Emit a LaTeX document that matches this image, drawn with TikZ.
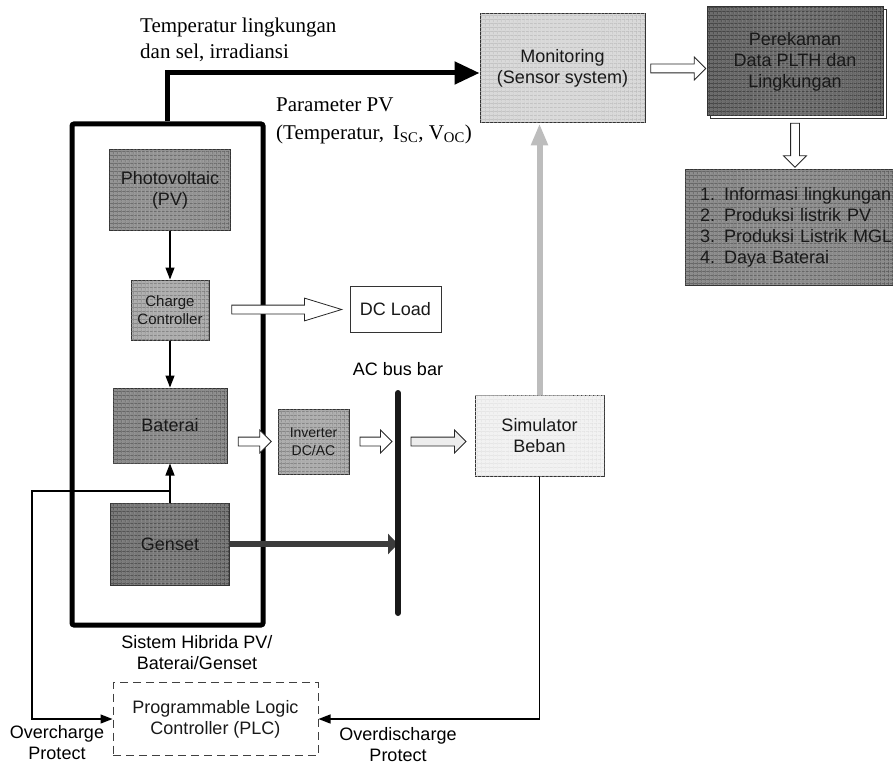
\documentclass[tikz,border=0pt]{standalone}
\usepackage{fontspec}
\setmainfont{Liberation Serif}
\setsansfont{Liberation Sans}
\usetikzlibrary{arrows.meta, positioning, calc, shapes.arrows, patterns.meta, shadows}
\definecolor{arrowgray}{HTML}{BDBDBD}
\definecolor{gensetarrow}{HTML}{3C3C3C}

\begin{document}
\begin{tikzpicture}[x=1pt, y=-1pt,
  box/.style={draw=black!80, line width=1pt, inner sep=0pt, align=center, text=black!90, font=\sffamily\fontsize{18}{21}\selectfont},
  mesh/.style 2 args={fill=#1,
    postaction={pattern={Lines[distance=4pt,line width=0.6pt]}, pattern color=#2},
    postaction={pattern={Lines[distance=4pt,angle=90,line width=0.6pt]}, pattern color=#2}},
  flow/.style={line width=1.3pt, -{Triangle[length=12pt,width=9pt]}},
  blk/.style={single arrow, draw=black!85, fill=white, line width=0.8pt, inner xsep=0pt, inner ysep=4pt, single arrow head extend=7pt},
  lbl/.style={font=\sffamily\fontsize{18}{21}\selectfont, align=center, inner sep=0pt},
  serif/.style={font=\fontsize{21}{26}\selectfont, align=left, inner sep=0pt}]
\useasboundingbox (0,0) rectangle (893,767);

\node[draw, line width=5pt, rounded corners=2pt, minimum width=191pt, minimum height=501pt] (hyb) at (167.5,374.5) {};

\node[box, mesh={black!42}{black!65}, minimum width=121pt, minimum height=81pt] (pv) at (170,190.5) {Photovoltaic\\(PV)};
\node[box, mesh={black!32}{black!55}, minimum width=78pt, minimum height=60pt, font=\sffamily\fontsize{15}{17.7}\selectfont] (cc) at (170,310) {Charge\\Controller};
\node[box, mesh={black!45}{black!68}, minimum width=114pt, minimum height=75pt] (bat) at (170,425.5) {Baterai};
\node[box, mesh={black!52}{black!75}, minimum width=119pt, minimum height=82pt] (gen) at (170,544) {Genset};
\node[box, mesh={black!32}{black!55}, minimum width=71pt, minimum height=65pt, font=\sffamily\fontsize{14}{17.7}\selectfont] (inv) at (313.5,441.5) {Inverter\\DC/AC};
\node[box, fill=white, minimum width=91pt, minimum height=46pt] (dcl) at (395.5,309) {DC Load};
\node[box, mesh={black!5}{black!12}, minimum width=129pt, minimum height=81pt] (sim) at (539.5,435.5) {Simulator\\Beban};
\node[box, mesh={black!15}{black!28}, minimum width=165pt, minimum height=109pt] (mon) at (562.5,68.5) {Monitoring\\(Sensor system)};
\node[box, copy shadow={shadow xshift=3pt, shadow yshift=-3pt, fill=white, draw=black!80}, mesh={black!58}{black!80}, minimum width=176pt, minimum height=109pt] (rec) at (795,61.5) {Perekaman\\Data PLTH dan\\Lingkungan};
\node[box, mesh={black!45}{black!68}, minimum height=115pt, text width=200pt, inner xsep=15pt, align=left] (lst) at (800,227.5) {1. Informasi lingkungan\\2. Produksi listrik PV\\3. Produksi Listrik MGL\\4. Daya Baterai};
\node[box, draw=black!75, dash pattern=on 8pt off 5pt, minimum width=205pt, minimum height=73pt] (plc) at (215.5,719) {Programmable Logic\\Controller (PLC)};

\coordinate (bt) at (398,393);
\coordinate (bb) at (398,613);
\coordinate (fb) at (170,491);
\coordinate (oc) at (32,719);

\draw[flow] (pv) -- (cc);
\draw[flow] (cc) -- (bat);
\draw[flow] (gen) -- (bat);
\draw[flow] (fb) -| (oc) -- (plc.west);
\draw[flow] (sim.south) |- (plc.east);
\draw[line width=6pt, gensetarrow, -{Triangle[length=10pt,width=20pt]}] (gen.east) -- (gen.east -| bt);
\draw[line width=6pt, line cap=round, black!90] (bt) -- (bb);
\draw[line width=5pt, -{Triangle[length=25pt,width=22pt]}] (hyb.north) |- ([yshift=-4.5pt]mon.west);
\draw[line width=6pt, arrowgray, -{Triangle[length=22pt,width=16pt]}] (sim.north) -- (sim.north |- mon.south);

\node[blk, minimum height=110pt, single arrow tip angle=34] (a1) at ($(cc.east)!0.5!(dcl.west)$) {};
\node[blk, minimum height=33pt] (a2) at ($(bat.east |- inv.west)!0.5!(inv.west)$) {};
\node[blk, minimum height=32pt] (a3) at ($(inv.east)!0.5!(inv.east -| bt)$) {};
\node[blk, minimum height=55pt, fill=black!7] (a4) at ($(bt |- inv.east)!0.5!(sim.west |- inv.east)$) {};
\node[blk, minimum height=55pt] (a5) at ($(mon.east)!0.5!(mon.east -| rec.west)$) {};
\node[blk, minimum height=44pt, inner xsep=4pt, inner ysep=0pt, shape border rotate=270] (a6) at ($(rec.south)!0.5!(lst.north -| rec.south)$) {};

\node[serif] (t1) at (140,0) [anchor=west, yshift=-40pt] {Temperatur lingkungan\\dan sel, irradiansi};
\node[serif, font=\fontsize{21}{28}\selectfont] (t2) at (276,0) [anchor=west, yshift=-121pt] {Parameter PV\\(Temperatur,\, I\textsubscript{SC}, V\textsubscript{OC})};
\node[lbl] (ac) at (398,369) {AC bus bar};
\node[lbl] (sh) at (197,653) {Sistem Hibrida PV/\\Baterai/Genset};
\node[lbl] (ov) at (57,743) {Overcharge\\Protect};
\node[lbl] (od) at (398,745) {Overdischarge\\Protect};
\end{tikzpicture}
\end{document}
